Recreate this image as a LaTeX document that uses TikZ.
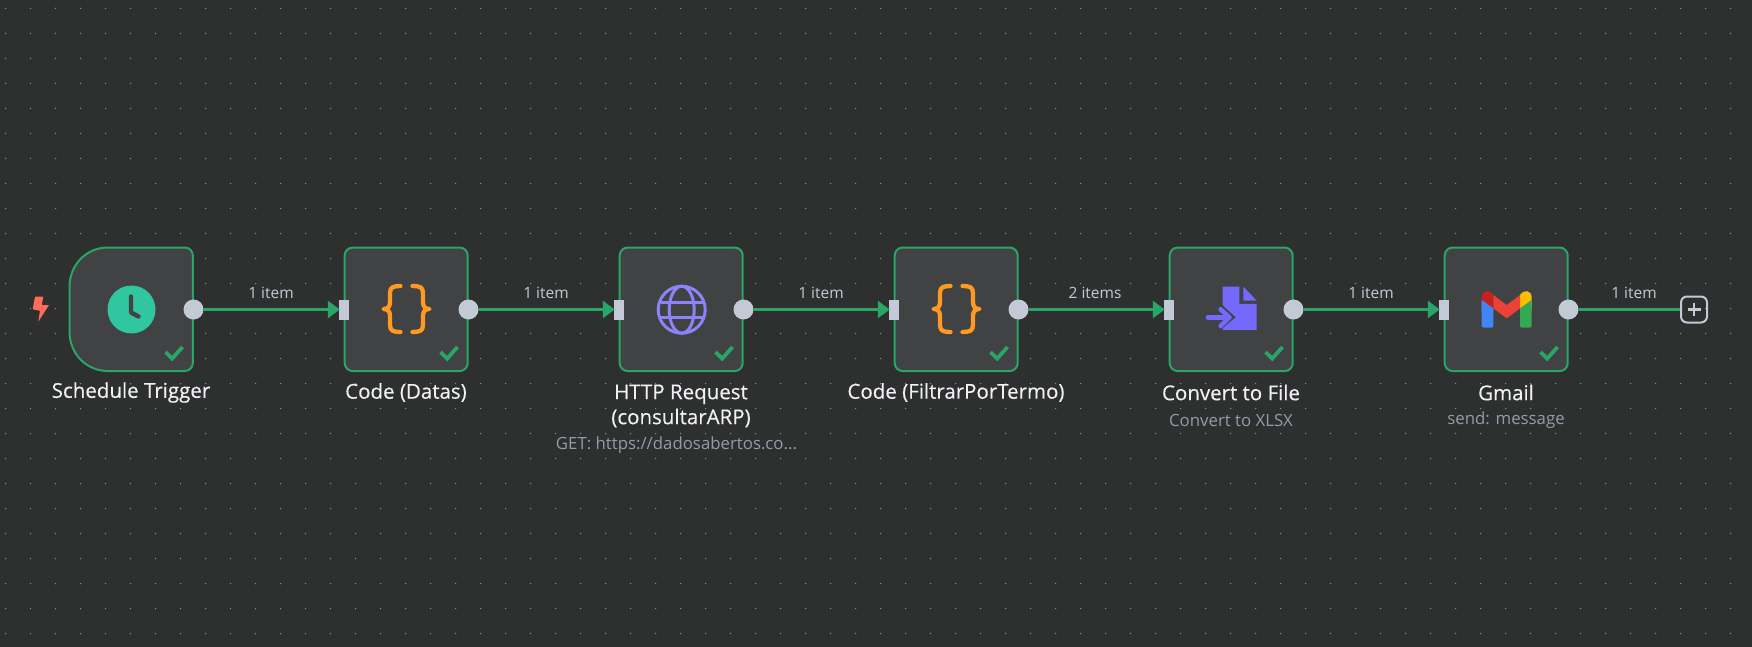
\documentclass[tikz,border=0pt]{standalone}
\usepackage{fontspec}
\usetikzlibrary{arrows.meta}
\setmainfont{Open Sans}
\newfontfamily\titlefont[FakeBold=0.35]{Open Sans}
\definecolor{bgc}{HTML}{2E3030}
\definecolor{cardc}{HTML}{414244}
\definecolor{okc}{HTML}{29A568}
\definecolor{portc}{HTML}{C3C9D5}
\definecolor{titlec}{HTML}{F0F0F5}
\definecolor{subc}{HTML}{959AAA}
\definecolor{dotc}{HTML}{8A8C8C}
\definecolor{clockc}{HTML}{2FC6A0}
\definecolor{bracec}{HTML}{FF9922}
\definecolor{globec}{HTML}{8C83F7}
\definecolor{filec}{HTML}{7569FB}
\definecolor{boltc}{HTML}{FF6D5A}
\definecolor{gmblue}{HTML}{4285F4}
\definecolor{gmgreen}{HTML}{34A853}
\definecolor{gmred}{HTML}{EA4335}
\definecolor{gmdark}{HTML}{C5221F}
\definecolor{gmyellow}{HTML}{FBBC04}
\tikzset{x=1pt,y=-1pt,
 card/.style={draw=okc,line width=2pt,fill=cardc,rounded corners=8pt,minimum width=123pt,minimum height=123.5pt,inner sep=0pt},
 outport/.style={circle,fill=portc,minimum size=20pt,inner sep=0pt},
 inport/.style={rectangle,fill=portc,minimum width=10pt,minimum height=20pt,inner sep=0pt},
 wire/.style={draw=okc,line width=2.5pt},
 wirearrow/.style={wire,-{Triangle[length=12pt,width=17pt]},shorten >=-1pt},
 edgelabel/.style={text=portc,font=\fontsize{15.5}{18}\selectfont,inner sep=0pt},
 titlelabel/.style={text=titlec,font=\titlefont\fontsize{20.5}{25}\selectfont,inner sep=0pt,align=center},
 sublabel/.style={text=subc,font=\fontsize{16.8}{18}\selectfont,inner sep=0pt},
 tick/.style={draw=okc,line width=3.8pt},
 bracestroke/.style={draw=bracec,line width=4.3pt,line cap=round,line join=round},
 globestroke/.style={draw=globec,line width=3pt},
 plusbox/.style={draw=portc,line width=2pt,rounded corners=6pt,minimum size=26pt,inner sep=0pt}
}
\newcommand{\okmark}[2]{\draw[tick] (#1-31.5,{#2+43}) -- ++(6.7,6.6) -- ++(10.3,-11.6);}
\newcommand{\curly}[1]{%
 \begin{scope}[shift={(#1)}]
 \draw[bracestroke] (-6,-23) .. controls (-13,-23) and (-16.5,-22) .. (-16.5,-16) -- (-16.5,-7) .. controls (-16.5,-2) and (-19,0) .. (-23,0) .. controls (-19,0) and (-16.5,2) .. (-16.5,7) -- (-16.5,16) .. controls (-16.5,22) and (-13,23) .. (-6,23);
 \draw[bracestroke] (6,-23) .. controls (13,-23) and (16.5,-22) .. (16.5,-16) -- (16.5,-7) .. controls (16.5,-2) and (19,0) .. (23,0) .. controls (19,0) and (16.5,2) .. (16.5,7) -- (16.5,16) .. controls (16.5,22) and (13,23) .. (6,23);
 \end{scope}}
\begin{document}
\begin{tikzpicture}
\useasboundingbox (0,0) rectangle (1752,647);
\fill[bgc] (0,0) rectangle (1752,647);
\foreach \i in {0,...,69}{\foreach \j in {0,...,25}{\fill[dotc] ({5.5+25*\i},{8.5+25*\j}) circle (0.75pt);}}
% trigger
\draw[draw=okc,line width=2pt,fill=cardc] (184.8,247.5) .. controls (189.3,247.5) and (192.8,251) .. (192.8,255.5) -- (192.8,363) .. controls (192.8,367.5) and (189.3,371) .. (184.8,371) -- (108,371) .. controls (86,371) and (69.5,353.5) .. (69.5,331.5) -- (69.5,287) .. controls (69.5,265) and (86,247.5) .. (108,247.5) -- cycle;
\node[card] (n2) at (406.2,309.3) {};
\node[card] (n3) at (681.2,309.3) {};
\node[card] (n4) at (956.2,309.3) {};
\node[card] (n5) at (1231.2,309.3) {};
\node[card] (n6) at (1506.2,309.3) {};
% bolt
\fill[boltc,rounded corners=0.6pt] (35,296.7) -- (43.3,296.7) -- (41.7,305) -- (49,305) -- (38.3,321.7) -- (40,310.7) -- (32.7,309.3) -- cycle;
% clock
\node[circle,fill=clockc,minimum size=48pt,inner sep=0pt] (clk) at (131.5,309.5) {};
\draw[cardc,line width=4.4pt,line cap=round,line join=round] (131,296.5) -- (131,312.5) -- (138.5,316.5);
% curly
\curly{406.5,309}
\curly{956.5,309}
% globe
\begin{scope}[shift={(681.7,309.7)}]
\draw[globestroke] (0,0) circle (23.5);
\draw[globestroke] (0,0) ellipse (12.5 and 23.5);
\draw[globestroke] (-21,-7.5) -- (21,-7.5);
\draw[globestroke] (-21,7.5) -- (21,7.5);
\end{scope}
% file icon
\begin{scope}[shift={(1190,270)},x=0.3333pt,y=-0.3333pt]
\fill[filec] (98,50) -- (148,50) -- (148,102) -- (200,102) -- (200,180) -- (98,180) -- cycle;
\fill[filec] (160,50) -- (200,92) -- (160,92) -- cycle;
\fill[cardc] (90,100) -- (137,142) -- (90,176) -- cycle;
\draw[cardc,line width=2.8pt,line join=round,line cap=round] (90,104) -- (128,142) -- (90,176);
\draw[filec,line width=4.6pt,line cap=round] (54,142) -- (118,142);
\draw[filec,line width=4.6pt,line cap=round,line join=round] (92,118) -- (118,142) -- (92,168);
\end{scope}
% gmail
\begin{scope}[shift={(1430,245)},x=0.3333pt,y=-0.3333pt]
\fill[gmblue,rounded corners=1.5pt] (155,165) -- (190,190) -- (190,248) -- (155,248) -- cycle;
\fill[gmgreen,rounded corners=1.5pt] (305,165) -- (270,190) -- (270,248) -- (305,248) -- cycle;
\fill[gmdark] (155,190) -- (155,158) .. controls (155,135) and (178,132) .. (190,150) -- (190,190) -- (190,192) -- cycle;
\fill[gmyellow] (305,190) -- (305,158) .. controls (305,135) and (282,132) .. (270,150) -- (270,192) -- cycle;
\fill[gmgreen] (305,165) -- (270,190) -- (270,200) -- (305,200) -- cycle;
\fill[gmblue] (155,165) -- (190,190) -- (190,200) -- (155,200) -- cycle;
\fill[gmred] (190,150) -- (230,180) -- (270,150) -- (270,190) -- (230,220) -- (190,190) -- cycle;
\end{scope}
% ticks
\okmark{197}{309}
\okmark{472}{309}
\okmark{747}{309}
\okmark{1022}{309}
\okmark{1297}{309}
\okmark{1572}{309}
% ports
\node[outport] (o1) at (193.5,309.5) {};
\node[outport] (o2) at (468.5,309.5) {};
\node[outport] (o3) at (743.5,309.5) {};
\node[outport] (o4) at (1018.5,309.5) {};
\node[outport] (o5) at (1293.5,309.5) {};
\node[outport] (o6) at (1568.5,309.5) {};
\node[inport] (i2) at (344,309.5) {};
\node[inport] (i3) at (619,309.5) {};
\node[inport] (i4) at (894,309.5) {};
\node[inport] (i5) at (1169,309.5) {};
\node[inport] (i6) at (1444,309.5) {};
\node[plusbox] (add) at (1694,309.5) {};
\draw[portc,line width=2.6pt] ([xshift=-6.5pt]add.center) -- ([xshift=6.5pt]add.center);
\draw[portc,line width=2.6pt] ([yshift=-6.5pt]add.center) -- ([yshift=6.5pt]add.center);
% wires
\draw[wirearrow] (o1) -- (i2);
\draw[wirearrow] (o2) -- (i3);
\draw[wirearrow] (o3) -- (i4);
\draw[wirearrow] (o4) -- (i5);
\draw[wirearrow] (o5) -- (i6);
\draw[wire] (o6) -- (add);
% edge labels
\node[edgelabel] (e1) at (271,293) {1 item};
\node[edgelabel] (e2) at (546,293) {1 item};
\node[edgelabel] (e3) at (821,293) {1 item};
\node[edgelabel] (e4) at (1095,293) {2 items};
\node[edgelabel] (e5) at (1371,293) {1 item};
\node[edgelabel] (e6) at (1634,293) {1 item};
% titles
\node[titlelabel] (t1) at (131,392.5) {Schedule Trigger};
\node[titlelabel] (t2) at (406,392.5) {Code (Datas)};
\node[titlelabel] (t3) at (681,406) {HTTP Request\\(consultarARP)};
\node[titlelabel] (t4) at (956,392.5) {Code (FiltrarPorTermo)};
\node[titlelabel] (t5) at (1231,392.5) {Convert to File};
\node[titlelabel] (t6) at (1506,392.5) {Gmail};
\node[sublabel] (s3) at (676.5,445.5) {GET: https://dadosabertos.co...};
\node[sublabel] (s5) at (1231,420) {Convert to XLSX};
\node[sublabel] (s6) at (1506,420) {send: message};
\end{tikzpicture}
\end{document}
